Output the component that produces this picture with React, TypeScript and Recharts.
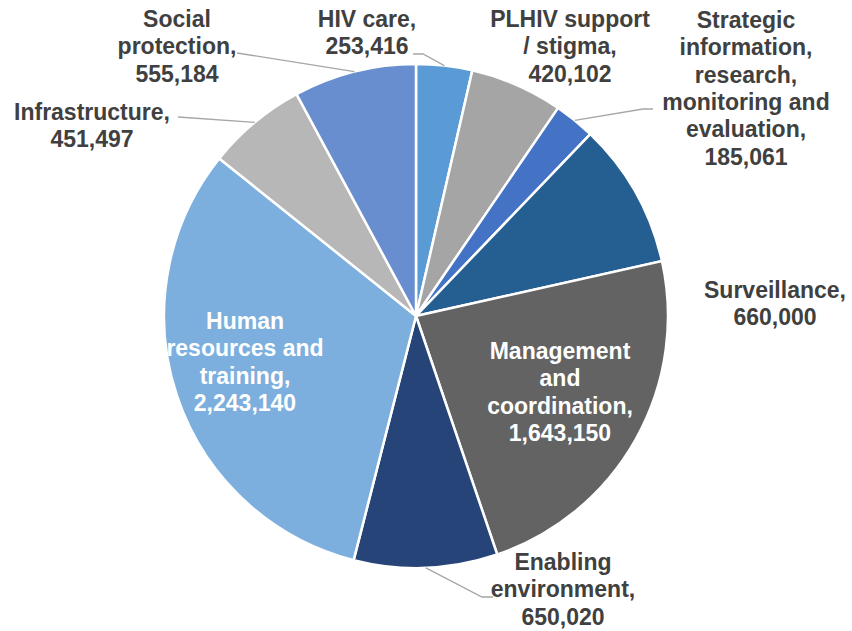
import { PieChart, Pie, Cell } from "recharts";

const categories = [
  "HIV care",
  "PLHIV support / stigma",
  "Strategic information, research, monitoring and evaluation",
  "Surveillance",
  "Management and coordination",
  "Enabling environment",
  "Human resources and training",
  "Infrastructure",
  "Social protection",
];

const amounts = [253416, 420102, 185061, 660000, 1643150, 650020, 2243140, 451497, 555184];

const sliceColors = [
  "#5b9bd5",
  "#a5a5a5",
  "#4472c4",
  "#255e91",
  "#636363",
  "#264478",
  "#7cafdd",
  "#b7b7b7",
  "#698ed0",
];

// label placement: text centre, first line centre, wrapped name, leader points
const labelLayout = [
  { x: 367, y: 19, wrap: ["HIV care,"], fill: "#404040", leader: [[423, 54], [413, 54]] },
  { x: 570, y: 19, wrap: ["PLHIV support", "/ stigma,"], fill: "#404040", leader: [] },
  {
    x: 746,
    y: 20,
    wrap: ["Strategic", "information,", "research,", "monitoring and", "evaluation,"],
    fill: "#404040",
    leader: [[643, 109], [653, 109]],
  },
  { x: 775, y: 290, wrap: ["Surveillance,"], fill: "#404040", leader: [] },
  { x: 560, y: 351, wrap: ["Management", "and", "coordination,"], fill: "#ffffff", leader: [] },
  { x: 563, y: 562, wrap: ["Enabling", "environment,"], fill: "#404040", leader: [[482, 597], [493, 597]] },
  { x: 245, y: 321, wrap: ["Human", "resources and", "training,"], fill: "#ffffff", leader: [] },
  { x: 92, y: 112, wrap: ["Infrastructure,"], fill: "#404040", leader: [[178, 117]] },
  { x: 177, y: 19, wrap: ["Social", "protection,"], fill: "#404040", leader: [[237, 53]] },
];

const data = categories.map((name, i) => ({ name, value: amounts[i] }));

const RADIAN = Math.PI / 180;
const LINE_H = 27.3;

const renderLabel = (props: any) => {
  const { cx, cy, midAngle, outerRadius, index, value } = props;
  const layout = labelLayout[index];
  const ex = cx + outerRadius * Math.cos(-midAngle * RADIAN);
  const ey = cy + outerRadius * Math.sin(-midAngle * RADIAN);
  const lines = [...layout.wrap, value.toLocaleString("en-US")];
  const pts = [[ex, ey], ...layout.leader];
  return (
    <g key={`lbl-${index}`}>
      {layout.leader.length > 0 && (
        <polyline
          points={pts.map((p) => p.join(",")).join(" ")}
          fill="none"
          stroke="#a6a6a6"
          strokeWidth={1.3}
        />
      )}
      {lines.map((t, j) => (
        <text
          key={j}
          x={layout.x}
          y={layout.y + j * LINE_H}
          textAnchor="middle"
          dominantBaseline="central"
          fill={layout.fill}
          fontSize={23}
          fontWeight="bold"
          fontFamily="'Liberation Sans', Arial, sans-serif"
        >
          {t}
        </text>
      ))}
    </g>
  );
};

export default function App() {
  return (
    <div style={{ position: "absolute", left: 0, top: 0, background: "#ffffff" }}>
      <PieChart width={852} height={631} margin={{ top: 0, right: 0, bottom: 0, left: 0 }}>
        <Pie
          data={data}
          dataKey="value"
          nameKey="name"
          cx={416}
          cy={316}
          outerRadius={252}
          startAngle={90}
          endAngle={-270}
          stroke="#ffffff"
          strokeWidth={2.5}
          label={renderLabel}
          labelLine={false}
          isAnimationActive={false}
        >
          {data.map((d, i) => (
            <Cell key={d.name} fill={sliceColors[i]} />
          ))}
        </Pie>
      </PieChart>
    </div>
  );
}
